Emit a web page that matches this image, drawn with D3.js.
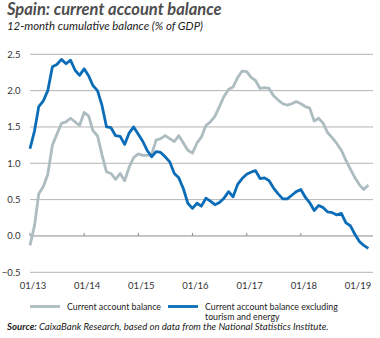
<!DOCTYPE html>
<html>
<head>
<meta charset="utf-8">
<script src="https://cdn.jsdelivr.net/npm/d3@7"></script>
<style>
  html, body { margin: 0; padding: 0; background: #fff; }
  svg { display: block; font-family: Lato, "Open Sans", sans-serif; }
</style>
</head>
<body>
<div id="chart"></div>
<script>
// monthly values, 01/2013 .. 04/2019
const START = new Date(2013, 0, 1);

const currentAccount = [
  -0.13, 0.15, 0.58, 0.68, 0.85, 1.25, 1.40, 1.55, 1.57, 1.62, 1.57, 1.52,
  1.70, 1.65, 1.45, 1.38, 1.12, 0.88, 0.86, 0.78, 0.86, 0.76, 0.95, 1.08,
  1.13, 1.11, 1.11, 1.12, 1.32, 1.34, 1.38, 1.34, 1.30, 1.38, 1.28, 1.18,
  1.14, 1.28, 1.36, 1.52, 1.57, 1.65, 1.78, 1.92, 2.02, 2.05, 2.18, 2.27,
  2.26, 2.18, 2.14, 2.03, 2.04, 2.03, 1.93, 1.87, 1.82, 1.80, 1.82, 1.85,
  1.82, 1.78, 1.76, 1.58, 1.62, 1.55, 1.42, 1.35, 1.27, 1.18, 1.04, 0.92,
  0.80, 0.70, 0.64, 0.70
];

const excludingTourismEnergy = [
  1.20, 1.45, 1.78, 1.86, 2.00, 2.33, 2.36, 2.43, 2.37, 2.42, 2.28, 2.21,
  2.30, 2.20, 2.07, 2.00, 1.80, 1.50, 1.49, 1.38, 1.37, 1.26, 1.42, 1.50,
  1.40, 1.30, 1.18, 1.09, 1.16, 1.15, 1.09, 1.02, 0.86, 0.80, 0.65, 0.45,
  0.38, 0.45, 0.41, 0.52, 0.48, 0.43, 0.46, 0.52, 0.61, 0.54, 0.71, 0.79,
  0.85, 0.88, 0.90, 0.79, 0.80, 0.76, 0.66, 0.58, 0.51, 0.51, 0.56, 0.61,
  0.64, 0.53, 0.46, 0.35, 0.42, 0.39, 0.33, 0.32, 0.29, 0.31, 0.18, 0.14,
  0.02, -0.08, -0.13, -0.17
];

const yTicks = [-0.5, 0, 0.5, 1.0, 1.5, 2.0, 2.5];
const xTickYears = [2013, 2014, 2015, 2016, 2017, 2018, 2019];

const SERIES = [
  { name: 'Current account balance', values: currentAccount, color: '#adbcc0' },
  { name: 'Current account balance excluding|tourism and energy', values: excludingTourismEnergy, color: '#0b6db7' }
];

const W = 380, H = 338;
const months = d3.timeMonth.range(START, d3.timeMonth.offset(START, currentAccount.length));

const svg = d3.select('#chart').append('svg').attr('width', W).attr('height', H);

const x = d3.scaleTime().domain([new Date(2013, 0, 1), new Date(2019, 0, 1)]).range([30, 355]);
const y = d3.scaleLinear().domain([-0.5, 2.5]).range([272.3, 54.3]);
const gridRight = 373;

// title
svg.append('text').attr('x', 7).attr('y', 14.5)
  .attr('font-size', 16.5).attr('font-weight', 'bold').attr('font-style', 'italic')
  .attr('fill', '#4d4d4d').text('Spain: current account balance');
svg.append('text').attr('x', 7).attr('y', 29.5)
  .attr('font-size', 11.4).attr('font-style', 'italic')
  .attr('fill', '#222').text('12-month cumulative balance (% of GDP)');

// grid
svg.append('g').selectAll('line').data(yTicks).enter().append('line')
  .attr('x1', 30).attr('x2', gridRight)
  .attr('y1', d => y(d)).attr('y2', d => y(d))
  .attr('stroke', d => d === 0 ? '#8a8a8a' : '#b4b4b4')
  .attr('stroke-width', 1);

svg.append('g').selectAll('text').data(yTicks).enter().append('text')
  .attr('x', 20.5).attr('y', d => y(d) + 3.3)
  .attr('text-anchor', 'end').attr('font-size', 9.5).attr('fill', '#333')
  .text(d => d3.format('.1f')(d));

// x ticks on the zero line
const xDates = xTickYears.map(yr => new Date(yr, 0, 1));
svg.append('g').selectAll('line').data(xDates).enter().append('line')
  .attr('x1', d => x(d)).attr('x2', d => x(d))
  .attr('y1', y(0)).attr('y2', y(0) - 3)
  .attr('stroke', '#8a8a8a');

svg.append('g').selectAll('text').data(xDates).enter().append('text')
  .attr('x', d => x(d) + 3).attr('y', 289)
  .attr('text-anchor', 'middle').attr('font-size', 9.5).attr('fill', '#333')
  .text(d3.timeFormat('%m/%y'));

// lines
const line = d3.line().x((d, i) => x(months[i])).y(d => y(d));
svg.append('g').selectAll('path').data(SERIES).enter().append('path')
  .attr('d', s => line(s.values))
  .attr('fill', 'none')
  .attr('stroke', s => s.color)
  .attr('stroke-width', 2.8)
  .attr('stroke-linejoin', 'round');

// legend
const legX = [30, 168];
const leg = svg.append('g').selectAll('g').data(SERIES).enter().append('g')
  .attr('transform', (d, i) => `translate(${legX[i]},306.5)`);
leg.append('line').attr('x1', 0).attr('x2', 30)
  .attr('stroke', d => d.color).attr('stroke-width', 2.8);
leg.append('text').attr('x', 37).attr('y', 3)
  .attr('font-size', 8.8).attr('fill', '#222')
  .selectAll('tspan').data(d => d.name.split('|')).enter().append('tspan')
  .attr('x', 37).attr('dy', (d, i) => i === 0 ? 0 : 10.5)
  .text(d => d);

// source
const src = svg.append('text').attr('x', 7).attr('y', 330)
  .attr('font-size', 9.6).attr('font-style', 'italic').attr('fill', '#222');
src.append('tspan').attr('font-weight', 'bold').text('Source: ');
src.append('tspan').text('CaixaBank Research, based on data from the National Statistics Institute.');
</script>
</body>
</html>
